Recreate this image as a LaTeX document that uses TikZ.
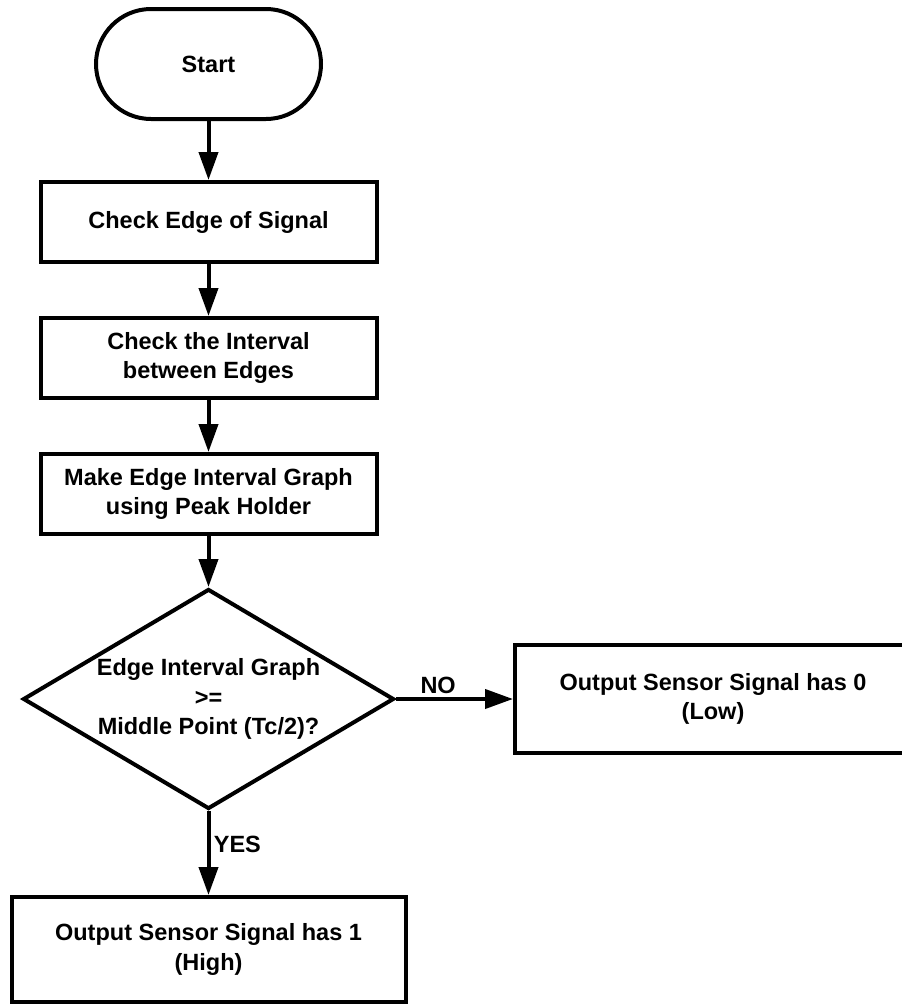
\documentclass[tikz,border=0pt]{standalone}
\usepackage{fontspec}
\setmainfont{Liberation Sans}
\usepackage{tikz}
\usetikzlibrary{arrows.meta, positioning, shapes.misc, shapes.geometric}
\tikzset{
  termbox/.style={draw, rounded rectangle, line width=4pt, align=center,
    minimum width=225pt, minimum height=110pt, inner sep=0pt},
  procbox/.style={draw, rectangle, line width=4pt, align=center,
    minimum width=336pt, minimum height=80pt, inner sep=0pt},
  outbox/.style={draw, rectangle, line width=4pt, align=center,
    minimum width=394pt, minimum height=105pt, inner sep=0pt},
  decbox/.style={draw, diamond, aspect=1.67, line width=4pt, align=center,
    minimum width=371pt, minimum height=220pt, inner sep=0pt},
  flow/.style={-{Triangle[length=28pt, width=19pt]}, line width=4pt},
  lbl/.style={font=\bfseries\fontsize{23.5}{29.5}\selectfont}
}

\begin{document}
\begin{tikzpicture}[x=1pt, y=1pt, node distance=52pt,
  every node/.append style={font=\bfseries\fontsize{23.5}{29.5}\selectfont}]
\useasboundingbox (0,0) rectangle (902,-1007);
\clip (0,0) rectangle (902,-1007);
\node[termbox] (start) at (208.5,-64) {Start};
\node[procbox, below=59pt of start] (edge) {Check Edge of Signal};
\node[procbox, below=of edge] (intv) {Check the Interval\\between Edges};
\node[procbox, below=of intv] (graph) {Make Edge Interval Graph\\using Peak Holder};
\node[decbox, below=51pt of graph] (dec) {Edge Interval Graph\\>=\\Middle Point (Tc/2)?};
\node[outbox, right=117pt of dec, minimum width=396pt, minimum height=108pt] (low) {Output Sensor Signal has 0\\(Low)};
\node[outbox, below=84pt of dec] (high) {Output Sensor Signal has 1\\(High)};
\draw[flow] (start)--(edge); \draw[flow] (edge)--(intv); \draw[flow] (intv)--(graph);
\draw[flow] (graph)--(dec);
\draw[flow] (dec.east)--(low.west) node[lbl, above, pos=0.36] {NO};
\draw[flow] (dec.south)--(high.north) node[lbl, right, pos=0.4] {YES};
\end{tikzpicture}
\end{document}
